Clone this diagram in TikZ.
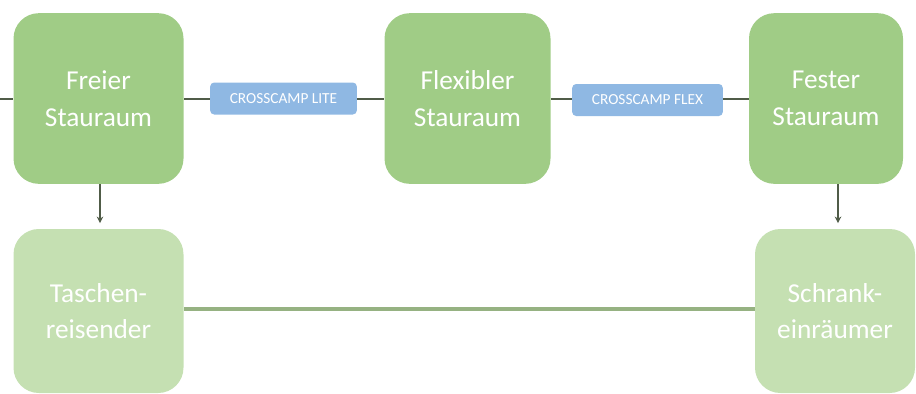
\documentclass[tikz,border=0pt]{standalone}
\usepackage{fontspec}
\setmainfont{Carlito}
\usetikzlibrary{arrows.meta}

\definecolor{boxgreen}{RGB}{160,204,134}
\definecolor{boxpale}{RGB}{197,224,178}
\definecolor{tagblue}{RGB}{143,184,227}
\definecolor{linedark}{RGB}{80,92,72}
\definecolor{linepale}{RGB}{150,178,130}

\tikzset{every picture/.style={line width=0.75pt}}
\tikzset{
  typbox/.style={draw=none, fill=boxgreen, rounded corners=19pt, text=white,
    align=center, font=\fontsize{20.5}{27.5}\selectfont, inner sep=0pt},
  typpale/.style={typbox, fill=boxpale},
  modeltag/.style={draw=none, fill=tagblue, rounded corners=3pt, text=white,
    font=\fontsize{11.5}{13}\selectfont, inner sep=0pt, minimum height=24pt},
  topline/.style={draw=linedark, line width=1.5pt},
  botline/.style={draw=linepale, line width=2.6pt},
}

\begin{document}
\begin{tikzpicture}[x=0.75pt,y=0.75pt,yscale=-1,xscale=1]
	\useasboundingbox (0,0) rectangle (916,393);

	% Text Node
	\node [typbox, minimum width=127.5pt, minimum height=128pt] (freier) at (98.5,98.5) {Freier\\Stauraum};
	% Text Node
	\node [typbox, minimum width=124.5pt, minimum height=128pt] (flexibler) at (467.5,98.5) {Flexibler\\Stauraum};
	% Text Node
	\node [typbox, minimum width=115.5pt, minimum height=128pt] (fester) at (826,98.5) {Fester\\Stauraum};
	% Text Node
	\node [typpale, minimum width=127.5pt, minimum height=123pt] (taschen) at (98.5,311) {Taschen-\\reisender};
	% Text Node
	\node [typpale, minimum width=120pt, minimum height=123pt] (schrank) at (835,311) {Schrank-\\einräumer};

	% Text Node
	\node [modeltag, minimum width=110pt] (lite) at (283.5,98.5) {CROSSCAMP LITE};
	% Text Node
	\node [modeltag, minimum width=113pt] (flex) at (647.5,100) {CROSSCAMP FLEX};

	\coordinate (stub) at (0,98.5);

	%Straight Lines
	\draw [topline] (stub) -- (freier.west);
	\draw [topline] (freier.east) -- (lite.west);
	\draw [topline] (lite.east) -- (flexibler.west);
	\draw [topline] (flexibler.east) -- (flex.west |- flexibler.east);
	\draw [topline] (flex.east |- fester.west) -- (fester.west);
	%Arrows
	\draw [draw=linedark, line width=1pt, -{Stealth[length=5pt,width=5pt]}, shorten >=4pt] (freier.south) ++(1.5,0) -- (taschen.north -| 100,0);
	\draw [draw=linedark, line width=1pt, -{Stealth[length=5pt,width=5pt]}, shorten >=4pt] (fester.south -| 838,0) -- (schrank.north -| 838,0);
	%Bottom Line
	\draw [botline] ([yshift=-1.5pt]taschen.east) -- ([yshift=-1.5pt]schrank.west);

\end{tikzpicture}
\end{document}
